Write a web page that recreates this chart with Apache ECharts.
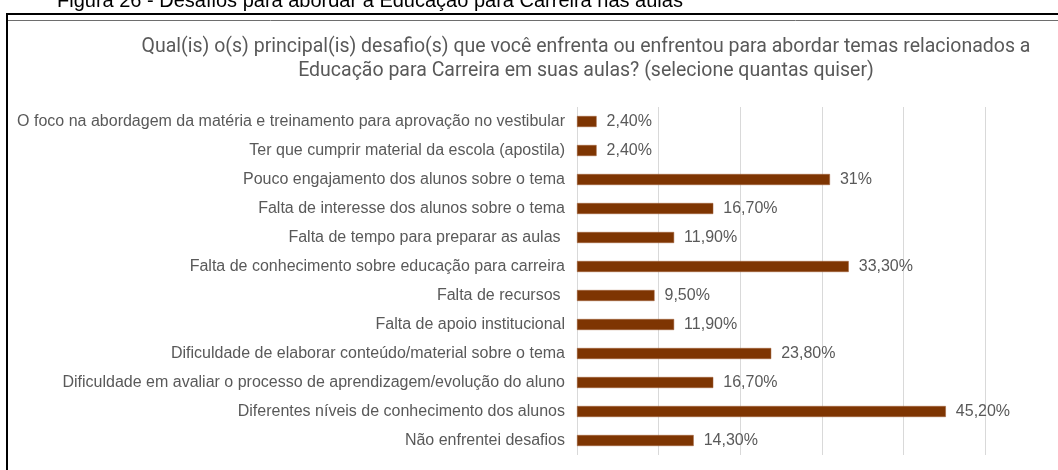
<!DOCTYPE html>
<html>
<head>
<meta charset="utf-8">
<script src="https://cdn.jsdelivr.net/npm/echarts@6/dist/echarts.min.js"></script>
<style>
  html, body { margin: 0; padding: 0; background: #fff; }
  #chart { width: 1058px; height: 470px; }
</style>
</head>
<body>
<div id="chart"></div>
<script>
// categorias (de cima para baixo)
const categorias = [
  'O foco na abordagem da matéria e treinamento para aprovação no vestibular',
  'Ter que cumprir material da escola (apostila)',
  'Pouco engajamento dos alunos sobre o tema',
  'Falta de interesse dos alunos sobre o tema',
  'Falta de tempo para preparar as aulas ',
  'Falta de conhecimento sobre educação para carreira',
  'Falta de recursos ',
  'Falta de apoio institucional',
  'Dificuldade de elaborar conteúdo/material sobre o tema',
  'Dificuldade em avaliar o processo de aprendizagem/evolução do aluno',
  'Diferentes níveis de conhecimento dos alunos',
  'Não enfrentei desafios'
]
// percentuais
const valores = [2.4, 2.4, 31, 16.7, 11.9, 33.3, 9.5, 11.9, 23.8, 16.7, 45.2, 14.3]
// rótulos como aparecem no gráfico
const rotulos = ['2,40%', '2,40%', '31%', '16,70%', '11,90%', '33,30%', '9,50%', '11,90%', '23,80%', '16,70%', '45,20%', '14,30%']

const legenda = 'Figura 26 - Desafios para abordar a Educação para Carreira nas aulas'
const titulo = 'Qual(is) o(s) principal(is) desafio(s) que você enfrenta ou enfrentou para abordar temas relacionados a\nEducação para Carreira em suas aulas? (selecione quantas quiser)'

const chart = echarts.init(document.getElementById('chart'))

const option = {
  animation: false,
  textStyle: { fontFamily: '"Liberation Sans", Arial, sans-serif' },
  graphic: [
    // legenda da figura, cortada no topo
    {
      type: 'text', left: 57, top: -9,
      style: { text: legenda, fontSize: 20, fontFamily: '"Liberation Sans", Arial, sans-serif', fill: '#000' }
    },
    // moldura
    { type: 'line', shape: { x1: 6, y1: 14, x2: 1058, y2: 14 }, style: { stroke: '#000', lineWidth: 2 } },
    { type: 'line', shape: { x1: 8, y1: 20.5, x2: 1058, y2: 20.5 }, style: { stroke: '#6e6e6e', lineWidth: 1 } },
    { type: 'line', shape: { x1: 7, y1: 13, x2: 7, y2: 470 }, style: { stroke: '#000', lineWidth: 2 } },
    // título do gráfico
    {
      type: 'text', x: 586, y: 35,
      style: {
        text: titulo, fontSize: 19.5, lineHeight: 24, fontFamily: 'Roboto, sans-serif',
        fill: '#595959', align: 'center', verticalAlign: 'top'
      }
    }
  ],
  grid: { left: 577, right: 73, top: 107, bottom: 15 },
  xAxis: {
    type: 'value',
    min: 0,
    max: 50,
    interval: 10,
    axisLabel: { show: false },
    axisLine: { show: false },
    axisTick: { show: false },
    splitLine: { lineStyle: { color: '#d9d9d9', width: 1 } }
  },
  yAxis: {
    type: 'category',
    inverse: true,
    data: categorias,
    axisLine: { show: false },
    axisTick: { show: false },
    axisLabel: { color: '#595959', fontSize: 16, margin: 12 }
  },
  series: [{
    type: 'bar',
    data: valores,
    barWidth: 11,
    itemStyle: { color: '#7e3502', borderColor: '#a0603a', borderWidth: 0.5 },
    label: {
      show: true,
      position: 'right',
      distance: 10,
      color: '#595959',
      fontSize: 16,
      formatter: p => rotulos[p.dataIndex]
    }
  }]
}

chart.setOption(option)
</script>
</body>
</html>
